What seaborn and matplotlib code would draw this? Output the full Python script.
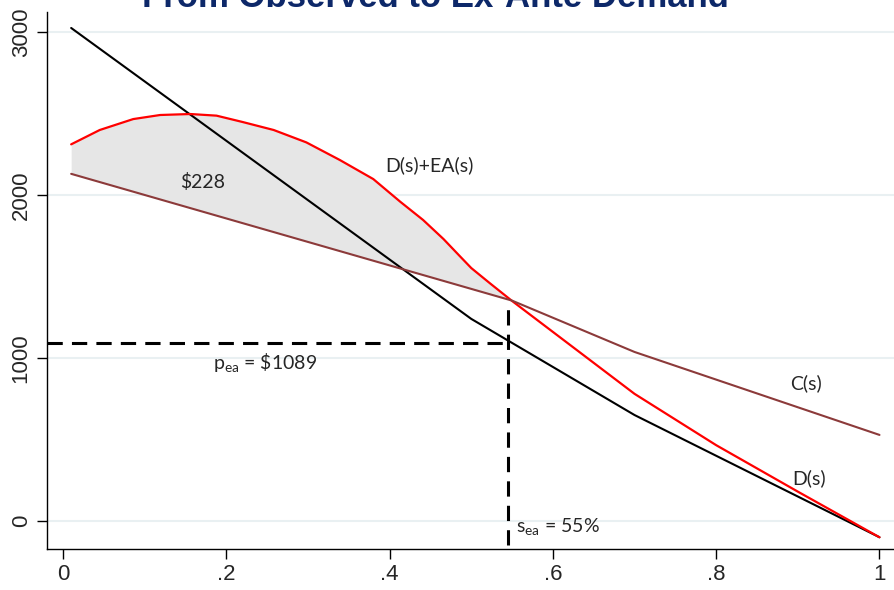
import numpy as np
import matplotlib
matplotlib.use("Agg")
import matplotlib.pyplot as plt
import seaborn as sns

# share of enrollment s, values in $
s_demand = [0.01, 0.50, 0.60, 0.70, 1.00]
demand = [3025, 1240, 945, 650, -100]

s_exante = [0.01, 0.045, 0.086, 0.119, 0.156, 0.188, 0.22, 0.258, 0.298,
            0.339, 0.38, 0.413, 0.441, 0.466, 0.486, 0.50, 0.523, 0.55,
            0.70, 0.80, 0.90, 1.00]
exante = [2311, 2399, 2466, 2491, 2497, 2487, 2448, 2399, 2323,
          2215, 2098, 1959, 1847, 1730, 1625, 1552, 1458, 1350,
          780, 465, 180, -100]

s_cost = [0.01, 0.55, 0.70, 1.00]
cost = [2130, 1352, 1037, 528]

s_ea = 0.545
p_ea = 1089
surplus_label = "$228"

x_ticks = [0, 0.2, 0.4, 0.6, 0.8, 1.0]
x_ticklabels = ["0", ".2", ".4", ".6", ".8", "1"]
y_ticks = [0, 1000, 2000, 3000]

sns.set_style("white")
plt.rcParams["mathtext.default"] = "regular"
label_font = ["Lato", "DejaVu Sans"]

fig = plt.figure(figsize=(8.95, 5.9), dpi=100)
ax = fig.add_axes([47 / 895, 1 - 549 / 590, 1 - 47 / 895, (549 - 12) / 590])

# shaded area between ex-ante demand and cost
xs = np.array(s_exante)
ys = np.array(exante)
mask = xs <= 0.55
ax.fill_between(xs[mask], ys[mask], np.interp(xs[mask], s_cost, cost),
                color="#e6e6e6", linewidth=0, zorder=1)

sns.lineplot(x=s_demand, y=demand, color="black", linewidth=1.5, ax=ax, zorder=3)
sns.lineplot(x=s_exante, y=exante, color="#ff0000", linewidth=1.6, ax=ax, zorder=3)
sns.lineplot(x=s_cost, y=cost, color="#8c3a3a", linewidth=1.5, ax=ax, zorder=3)

dash = (0, (5, 3))
ax.plot([-0.02, s_ea], [p_ea, p_ea], color="black", lw=2.2, linestyle=dash, zorder=4)
ax.plot([s_ea, s_ea], [-150, 1340], color="black", lw=2.2, linestyle=dash, zorder=4)

ax.text(0.171, 2080, surplus_label.replace("$", r"\$"), fontsize=14,
        family=label_font, ha="center", va="center")
ax.text(0.395, 2184, "D(s)+EA(s)", fontsize=14, family=label_font, ha="left", va="center")
ax.text(0.247, 975, r"p$_{ea}$ = \$1089", fontsize=14, family=label_font,
        ha="center", va="center")
ax.text(0.555, -37, r"s$_{ea}$ = 55%", fontsize=14, family=label_font,
        ha="left", va="center")
ax.text(0.91, 847, "C(s)", fontsize=14, family=label_font, ha="center", va="center")
ax.text(0.914, 264, "D(s)", fontsize=14, family=label_font, ha="center", va="center")

ax.set_xlim(-0.0196, 1.019)
ax.set_ylim(-172, 3123)
ax.set_xticks(x_ticks)
ax.set_xticklabels(x_ticklabels)
ax.set_yticks(y_ticks)
ax.set_yticklabels([str(v) for v in y_ticks], rotation=90, va="center")
ax.tick_params(axis="both", labelsize=16, length=7, width=1, color="black",
               direction="out", bottom=True, left=True, pad=4)
for lab in ax.get_xticklabels() + ax.get_yticklabels():
    lab.set_family(["Liberation Sans", "DejaVu Sans"])

ax.yaxis.grid(True, color="#e9f0f2", linewidth=1.5)
ax.xaxis.grid(False)
ax.set_axisbelow(True)
for side in ["top", "right"]:
    ax.spines[side].set_visible(False)
for side in ["left", "bottom"]:
    ax.spines[side].set_color("black")
    ax.spines[side].set_linewidth(1.0)

fig.text(0.486, 1 - 7 / 590, "From Observed to Ex-Ante Demand", fontsize=25,
         fontweight="bold", color="#0d2869", ha="center", va="baseline",
         family=["Liberation Sans", "DejaVu Sans"])

fig.savefig("out.png", dpi=100)
